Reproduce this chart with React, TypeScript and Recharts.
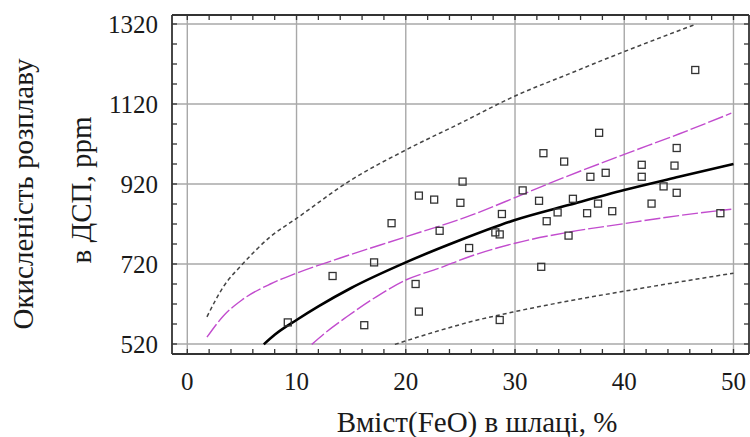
import React from 'react';
import { ComposedChart, Scatter, Line, XAxis, YAxis, CartesianGrid } from 'recharts';

// tick values
const xTicks = [0, 10, 20, 30, 40, 50];
const yTicks = [520, 720, 920, 1120, 1320];
const xMinor = [0, 2, 4, 6, 8, 10, 12, 14, 16, 18, 20, 22, 24, 26, 28, 30, 32, 34, 36, 38, 40, 42, 44, 46, 48, 50];
const yMinor = [520, 570, 620, 670, 720, 770, 820, 870, 920, 970, 1020, 1070, 1120, 1170, 1220, 1270, 1320];

// measured points: FeO in slag (%) vs melt oxidation (ppm)
const feo = [9.2, 13.3, 16.2, 17.1, 18.7, 20.9, 21.2, 21.2, 22.6, 23.1, 25.0, 25.2, 25.8, 28.2, 28.6, 28.8, 28.6, 30.7, 32.2, 32.4, 32.6, 32.9, 33.9, 34.5, 34.9, 35.3, 36.6, 36.9, 37.6, 37.7, 38.3, 38.9, 41.6, 41.6, 42.5, 43.6, 44.6, 44.8, 44.8, 46.5, 48.8];
const oxid = [574, 690, 567, 724, 822, 670, 601, 891, 881, 803, 873, 926, 760, 799, 794, 845, 580, 904, 878, 713, 997, 827, 849, 976, 791, 883, 847, 938, 871, 1048, 948, 852, 968, 938, 871, 914, 966, 1010, 898, 1205, 847];

// fitted curve
const fitX = [7, 8, 10, 12, 15, 20, 25, 30, 35, 40, 45, 50];
const fitY = [519, 543, 580, 614, 660, 724, 780, 830, 868, 905, 938, 970];

// confidence band
const confUpX = [1.8, 3.3, 5, 7.6, 10, 14, 20, 26, 30, 33, 40, 45, 49.8];
const confUpY = [537, 590, 630, 670, 697, 735, 788, 842, 886, 920, 994, 1045, 1097];
const confLoX = [11.4, 12.5, 14.6, 17.3, 20, 23, 26, 30, 35, 40, 45, 49.8];
const confLoY = [519, 545, 588, 638, 680, 709, 740, 772, 800, 821, 841, 857];

// prediction band
const predUpX = [1.8, 3.3, 5, 7.6, 10, 15, 20, 25, 30, 35, 40, 46.6];
const predUpY = [588, 663, 718, 788, 834, 930, 1005, 1072, 1140, 1196, 1251, 1320];
const predLoX = [19, 23, 26, 30, 35, 40, 45, 50];
const predLoY = [519, 553, 576, 601, 628, 652, 675, 697];

const pts = (xs: number[], ys: number[]) => xs.map((x, i) => ({ x, y: ys[i] }));

const FONT = 'Liberation Serif, Times New Roman, Tinos, DejaVu Serif, Noto Serif, serif';
const FRAME = '#333';
const MAGENTA = '#c24cce';
const X_DOMAIN: [number, number] = [-1.4, 51.42];
const Y_DOMAIN: [number, number] = [495, 1342.5];

const Square = (props: any) => {
  const { cx, cy } = props;
  return <rect x={cx - 3.5} y={cy - 3.5} width={7} height={7} fill="none" stroke="#333" strokeWidth={1.3} />;
};

const blank = () => '';

export default function App() {
  return (
    <div style={{ position: 'absolute', left: 0, top: 0, width: 750, height: 437, background: '#fff', fontFamily: FONT }}>
      <ComposedChart width={750} height={437} margin={{ top: 15, right: 1, bottom: 53, left: 112 }} style={{ fontFamily: FONT }}>
        <CartesianGrid stroke="#a8a8a8" strokeWidth={1.4} horizontalValues={yTicks} verticalValues={xTicks} />
        <XAxis
          type="number"
          dataKey="x"
          domain={X_DOMAIN}
          allowDataOverflow
          ticks={xTicks}
          interval={0}
          height={30}
          tickLine={false}
          axisLine={false}
          tickSize={0}
          tickMargin={18}
          tick={{ fontSize: 25, fill: '#1a1a1a', fontFamily: FONT }}
        />
        <XAxis xAxisId="minB" type="number" dataKey="x" domain={X_DOMAIN} allowDataOverflow ticks={xMinor} interval={0}
          orientation="bottom" mirror tickSize={5} tickFormatter={blank}
          tickLine={{ stroke: FRAME, strokeWidth: 1.3 }} axisLine={{ stroke: FRAME, strokeWidth: 1.8 }} />
        <XAxis xAxisId="minT" type="number" dataKey="x" domain={X_DOMAIN} allowDataOverflow ticks={xMinor} interval={0}
          orientation="top" mirror tickSize={5} tickFormatter={blank}
          tickLine={{ stroke: FRAME, strokeWidth: 1.3 }} axisLine={{ stroke: FRAME, strokeWidth: 1.8 }} />
        <YAxis
          type="number"
          dataKey="y"
          domain={Y_DOMAIN}
          allowDataOverflow
          ticks={yTicks}
          interval={0}
          width={60}
          tickLine={false}
          axisLine={false}
          tickSize={0}
          tickMargin={14}
          tick={{ fontSize: 25, fill: '#1a1a1a', fontFamily: FONT }}
        />
        <YAxis yAxisId="minL" type="number" dataKey="y" domain={Y_DOMAIN} allowDataOverflow ticks={yMinor} interval={0}
          orientation="left" mirror tickSize={5} tickFormatter={blank}
          tickLine={{ stroke: FRAME, strokeWidth: 1.3 }} axisLine={{ stroke: FRAME, strokeWidth: 1.8 }} />
        <YAxis yAxisId="minR" type="number" dataKey="y" domain={Y_DOMAIN} allowDataOverflow ticks={yMinor} interval={0}
          orientation="right" mirror tickSize={5} tickFormatter={blank}
          tickLine={{ stroke: FRAME, strokeWidth: 1.3 }} axisLine={{ stroke: FRAME, strokeWidth: 1.8 }} />

        <Line data={pts(predUpX, predUpY)} dataKey="y" type="monotone" stroke="#444" strokeWidth={1.5}
          strokeDasharray="4 3" dot={false} isAnimationActive={false} />
        <Line data={pts(predLoX, predLoY)} dataKey="y" type="monotone" stroke="#444" strokeWidth={1.5}
          strokeDasharray="4 3" dot={false} isAnimationActive={false} />
        <Line data={pts(confUpX, confUpY)} dataKey="y" type="monotone" stroke={MAGENTA} strokeWidth={1.4}
          strokeDasharray="16 3" dot={false} isAnimationActive={false} />
        <Line data={pts(confLoX, confLoY)} dataKey="y" type="monotone" stroke={MAGENTA} strokeWidth={1.4}
          strokeDasharray="16 3" dot={false} isAnimationActive={false} />
        <Line data={pts(fitX, fitY)} dataKey="y" type="monotone" stroke="#000" strokeWidth={2.6}
          dot={false} isAnimationActive={false} />
        <Scatter data={pts(feo, oxid)} dataKey="y" shape={Square} isAnimationActive={false} />
      </ComposedChart>

      <div style={{ position: 'absolute', left: 277, top: 408, width: 400, textAlign: 'center', fontSize: 29, lineHeight: 1, color: '#1a1a1a', whiteSpace: 'nowrap', fontFamily: FONT }}>
        Вміст(FeO) в шлаці, %
      </div>
      <div style={{ position: 'absolute', left: 23, top: 194, transform: 'translate(-50%, -50%) rotate(-90deg)', fontSize: 29, lineHeight: 1, color: '#1a1a1a', whiteSpace: 'nowrap', fontFamily: FONT }}>
        Окисленість розплаву
      </div>
      <div style={{ position: 'absolute', left: 81, top: 190, transform: 'translate(-50%, -50%) rotate(-90deg)', fontSize: 29, lineHeight: 1, color: '#1a1a1a', whiteSpace: 'nowrap', fontFamily: FONT }}>
        в ДСП, ppm
      </div>
    </div>
  );
}
